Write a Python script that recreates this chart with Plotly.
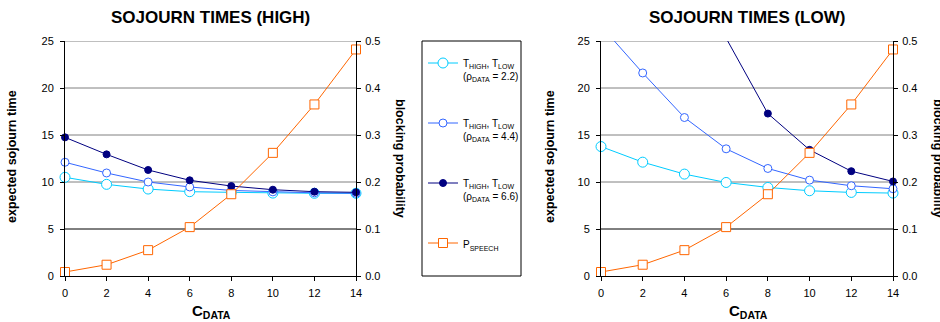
import plotly.graph_objects as go

# Number of data channels
c_data = [0, 2, 4, 6, 8, 10, 12, 14]

# Expected sojourn times, HIGH class
t_high_rho22 = [10.5, 9.75, 9.25, 8.97, 8.9, 8.82, 8.8, 8.8]
t_high_rho44 = [12.1, 10.96, 10.0, 9.47, 9.1, 8.95, 8.85, 8.8]
t_high_rho66 = [14.75, 12.94, 11.28, 10.18, 9.57, 9.18, 8.97, 8.9]

# Expected sojourn times, LOW class
t_low_rho22 = [13.77, 12.11, 10.84, 9.95, 9.42, 9.07, 8.89, 8.82]
t_low_rho44 = [26.6, 21.6, 16.86, 13.53, 11.44, 10.2, 9.6, 9.28]
t_low_rho66 = [None, None, 42.0, 25.3, 17.28, 13.42, 11.15, 10.06]

# Speech blocking probability
p_speech = [0.0085, 0.024, 0.055, 0.104, 0.174, 0.262, 0.365, 0.482]

# Axis ticks
time_ticks = [0, 5, 10, 15, 20, 25]
prob_ticks = [0, 0.1, 0.2, 0.3, 0.4, 0.5]

series_names = [
    "T<sub>HIGH</sub>, T<sub>LOW</sub><br>(ρ<sub>DATA</sub> = 2.2)",
    "T<sub>HIGH</sub>, T<sub>LOW</sub><br>(ρ<sub>DATA</sub> = 4.4)",
    "T<sub>HIGH</sub>, T<sub>LOW</sub><br>(ρ<sub>DATA</sub> = 6.6)",
    "P<sub>SPEECH</sub>",
]
titles = ["SOJOURN TIMES (HIGH)", "SOJOURN TIMES (LOW)"]

W, H = 940, 322
FONT = "Liberation Sans, Arial, sans-serif"

CYAN, BLUE, NAVY, ORANGE = "#00CCFF", "#3366FF", "#000080", "#FF6600"
styles = [
    dict(color=CYAN, symbol="circle", size=10, fill="white"),
    dict(color=BLUE, symbol="circle", size=8, fill="white"),
    dict(color=NAVY, symbol="circle", size=7, fill=NAVY),
]


def px_x(p):
    return p / W


def px_y(p):
    return 1 - p / H


fig = go.Figure()

panels = [
    dict(xa="x", ya="y", ya2="y2", data=[t_high_rho22, t_high_rho44, t_high_rho66], legend=True),
    dict(xa="x2", ya="y3", ya2="y4", data=[t_low_rho22, t_low_rho44, t_low_rho66], legend=False),
]

for panel in panels:
    for k, (vals, st) in enumerate(zip(panel["data"], styles)):
        fig.add_trace(go.Scatter(
            x=c_data, y=vals, mode="lines+markers",
            name=series_names[k], legendgroup=f"g{k}", showlegend=panel["legend"],
            xaxis=panel["xa"], yaxis=panel["ya"], cliponaxis=False,
            line=dict(color=st["color"], width=1),
            marker=dict(symbol=st["symbol"], size=st["size"], color=st["fill"],
                        line=dict(color=st["color"], width=1)),
        ))
    fig.add_trace(go.Scatter(
        x=c_data, y=p_speech, mode="lines+markers",
        name=series_names[3], legendgroup="g3", showlegend=panel["legend"],
        xaxis=panel["xa"], yaxis=panel["ya2"], cliponaxis=False,
        line=dict(color=ORANGE, width=1),
        marker=dict(symbol="square", size=9, color="white", line=dict(color=ORANGE, width=1)),
    ))

y_dom = [px_y(276), px_y(41)]
x_doms = [[px_x(65), px_x(356)], [px_x(601), px_x(893)]]

tick_font = dict(family=FONT, size=11, color="black")

xcommon = dict(range=[0, 14], tickvals=c_data, ticks="outside", ticklen=4, tickcolor="black",
               showline=True, linecolor="black", linewidth=1, showgrid=False, zeroline=False,
               tickfont=tick_font, ticklabelstandoff=3, automargin=False)
yleft = dict(range=[0, 25], tickvals=time_ticks, ticks="outside", ticklen=4,
             tickcolor="black", showline=True, linecolor="black", linewidth=1,
             showgrid=False, zeroline=False,
             tickfont=tick_font, ticklabelstandoff=4, automargin=False)
yright = dict(range=[0, 0.5], tickvals=prob_ticks, tickformat=".1f",
              ticks="outside", ticklen=4, tickcolor="black", showline=True, linecolor="black",
              linewidth=1, showgrid=False, zeroline=False, side="right",
              tickfont=tick_font, ticklabelstandoff=2, automargin=False)

fig.update_layout(
    width=W, height=H, autosize=False,
    margin=dict(l=0, r=0, t=0, b=0, pad=0),
    paper_bgcolor="white", plot_bgcolor="rgba(0,0,0,0)",
    font=dict(family=FONT, color="black"),
    xaxis=dict(domain=x_doms[0], anchor="y", **xcommon),
    xaxis2=dict(domain=x_doms[1], anchor="y3", **xcommon),
    yaxis=dict(domain=y_dom, anchor="x", **yleft),
    yaxis2=dict(domain=y_dom, anchor="x", overlaying="y", **yright),
    yaxis3=dict(domain=y_dom, anchor="x2", **yleft),
    yaxis4=dict(domain=y_dom, anchor="x2", overlaying="y3", **yright),
    legend=dict(
        x=px_x(423), y=px_y(50), xanchor="left", yanchor="top",
        bgcolor="rgba(0,0,0,0)", borderwidth=0, tracegroupgap=31,
        valign="top", font=dict(family=FONT, size=10, color="black"),
        itemwidth=30,
    ),
    showlegend=True,
)

shapes = []
# legend frame
shapes.append(dict(type="rect", xref="paper", yref="paper",
                   x0=px_x(422), x1=px_x(521), y0=px_y(276), y1=px_y(41),
                   line=dict(color="black", width=1), fillcolor="rgba(0,0,0,0)"))
# horizontal gridlines (the one at 5 is drawn darker)
for xa, ya in (("x", "y"), ("x2", "y3")):
    for t in time_ticks[1:]:
        shapes.append(dict(type="line", xref=f"{xa} domain", yref=ya, x0=0, x1=1, y0=t, y1=t,
                           line=dict(color="black" if t == 5 else "#808080", width=1),
                           layer="below"))
fig.update_layout(shapes=shapes)

annotations = []
centers = [210, 747]
for cx, title in zip(centers, titles):
    annotations.append(dict(text=f"<b>{title}</b>", x=px_x(cx), y=px_y(17), xref="paper",
                            yref="paper", showarrow=False, xanchor="center", yanchor="middle",
                            font=dict(family=FONT, size=17, color="black")))
    annotations.append(dict(text="<b>C<sub>DATA</sub></b>", x=px_x(cx + 1), y=px_y(311),
                            xref="paper", yref="paper", showarrow=False, xanchor="center",
                            yanchor="middle", font=dict(family=FONT, size=15, color="black")))
for lx in (12, 550):
    annotations.append(dict(text="<b>expected sojourn time</b>", x=px_x(lx), y=px_y(157),
                            xref="paper", yref="paper", showarrow=False, textangle=-90,
                            xanchor="center", yanchor="middle",
                            font=dict(family=FONT, size=12.5, color="black")))
for rx in (400, 938):
    annotations.append(dict(text="<b>blocking probability</b>", x=px_x(rx), y=px_y(158),
                            xref="paper", yref="paper", showarrow=False, textangle=90,
                            xanchor="center", yanchor="middle",
                            font=dict(family=FONT, size=12.5, color="black")))
fig.update_layout(annotations=annotations)

fig.write_html("out.html")
